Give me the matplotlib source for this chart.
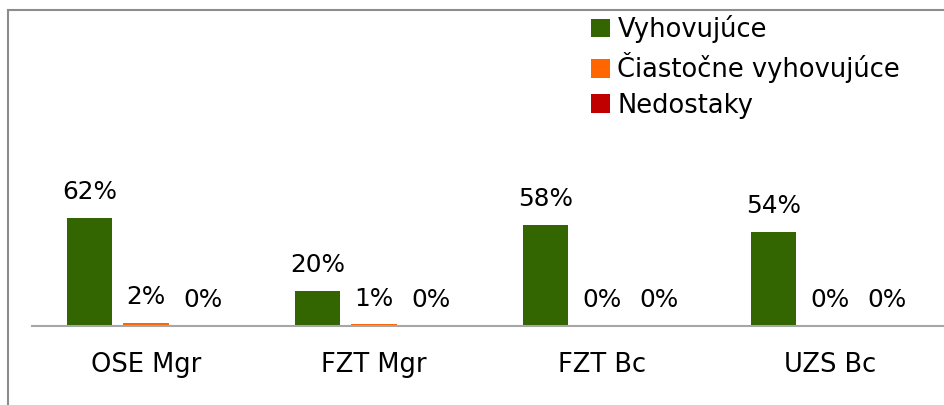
import matplotlib
matplotlib.use("Agg")
import matplotlib.pyplot as plt
import numpy as np
from matplotlib.patches import Rectangle

categories = ["OSE Mgr", "FZT Mgr", "FZT Bc", "UZS Bc"]
series_names = ["Vyhovujúce", "Čiastočne vyhovujúce", "Nedostaky"]
vyhovujuce = [62, 20, 58, 54]
ciastocne = [2, 1, 0, 0]
nedostaky = [0, 0, 0, 0]
colors = ["#336600", "#FF6600", "#C00000"]

plt.rcParams['font.family'] = ['DejaVu Sans']
FS_VAL = 17.8
FS = 18.5

fig = plt.figure(figsize=(9.45, 4.05), dpi=100)
ax_left = 32 / 945
ax_right = 944 / 945
ax_bottom = (405 - 326) / 405
ppu = 1.74  # px per percent
ax_height = 100 * ppu / 405
ax = fig.add_axes([ax_left, ax_bottom, ax_right - ax_left, ax_height])

x = np.arange(len(categories))
w = 0.2
off = 0.248
for i, (vals, col, name) in enumerate(zip([vyhovujuce, ciastocne, nedostaky], colors, series_names)):
    pos = x + (i - 1) * off
    ax.bar(pos, vals, width=w, color=col, label=name)
    for p, v in zip(pos, vals):
        ax.annotate(f"{v}%", (p, v), xytext=(0, 13.5), textcoords="offset points",
                    ha="center", va="baseline", fontsize=FS_VAL, color="black")

ax.set_xlim(-0.5, 3.5)
ax.set_ylim(0, 100)
for s in ["top", "right", "left"]:
    ax.spines[s].set_visible(False)
ax.spines["bottom"].set_color("#A6A6A6")
ax.spines["bottom"].set_linewidth(1.5)
ax.set_yticks([])
ax.set_xticks(x)
ax.set_xticklabels(categories, fontsize=FS)
ax.tick_params(axis="x", length=0, pad=19)
ax.patch.set_alpha(0)

leg = fig.legend(loc="upper left", bbox_to_anchor=(586 / 945, 1 - 10 / 405), frameon=False,
                 fontsize=FS, handlelength=0.72, handleheight=0.72, handletextpad=0.3,
                 labelspacing=0.36, borderaxespad=0, borderpad=0.2)

fig.patches.append(Rectangle((8 / 945, -0.1), 1.2, 1.1 - 10 / 405, transform=fig.transFigure,
                             fill=False, edgecolor="#8C8C8C", linewidth=1.5, clip_on=False))

fig.savefig("out.png", dpi=100)
